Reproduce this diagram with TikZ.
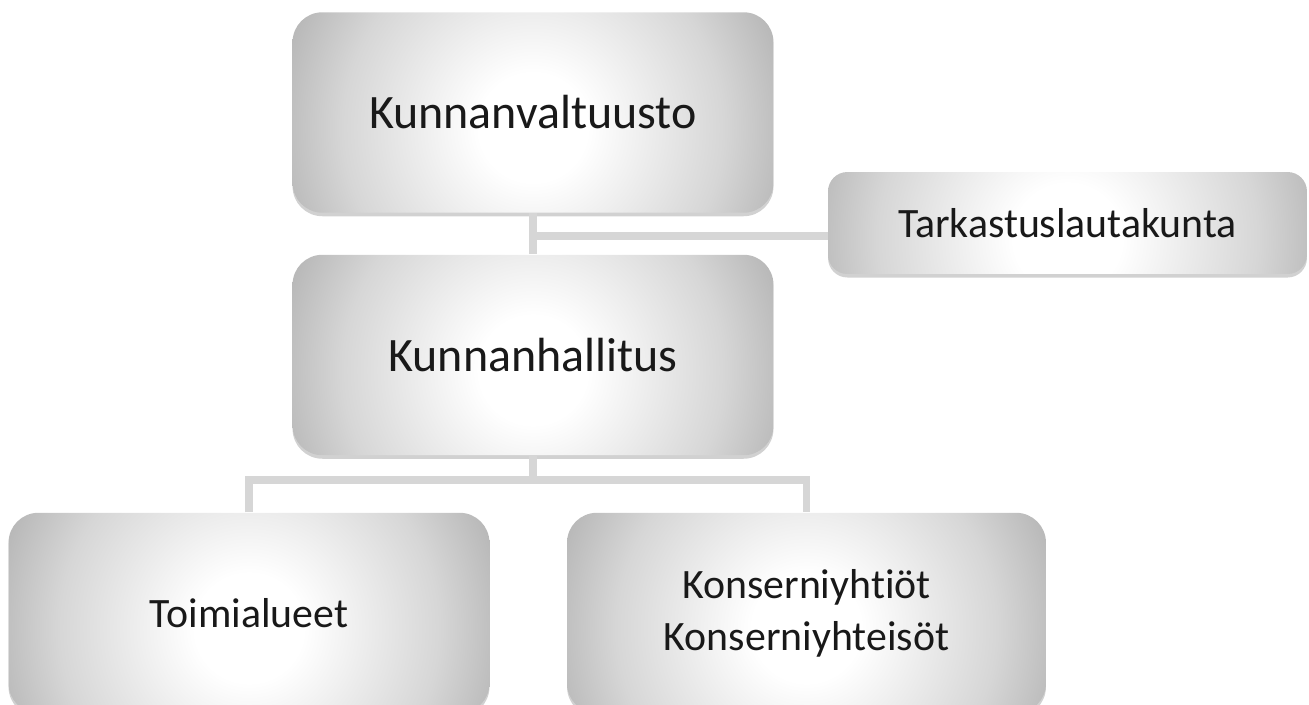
\documentclass[tikz,border=0pt]{standalone}
\usepackage{fontspec}
\setmainfont{Carlito}[Ligatures={NoCommon}]
\usetikzlibrary{shadows}

\colorlet{boxedge}{black!42}
\pgfdeclareradialshading{boxglow}{\pgfpoint{0bp}{0bp}}{color(0bp)=(white); color(4bp)=(white); color(14bp)=(black!16); color(25bp)=(boxedge); color(50bp)=(boxedge)}

\begin{document}
\begin{tikzpicture}
    [
    x=0.02cm, y=-0.02cm,
    box/.style={rectangle,rounded corners=17pt,inner sep=0pt,align=center,
      minimum width=9.62cm,minimum height=4.01cm,text=black!90,
      font=\fontsize{27.3}{32}\selectfont,
      drop shadow={shadow xshift=0pt,shadow yshift=-2pt,opacity=0.18,fill=black},
      path picture={\shade[shading=boxglow]
        ([yshift=-0.3cm]path picture bounding box.center) circle (6.8cm);}},
    smallbox/.style={box,font=\fontsize{23.8}{29.5}\selectfont},
    link/.style={draw=black!16,line width=4.5pt},
    ]
    \useasboundingbox (0,0) rectangle (1309,704);

    \node (valt) at (533,112.5) [box] {Kunnanvaltuusto};
    \node (tark) at (1067.5,223) [smallbox,minimum width=9.58cm,minimum height=2.04cm,rounded corners=11pt] {Tarkastuslautakunta};
    \node (hall) at (533,355) [box] {Kunnanhallitus};
    \node (toim) at (249,613) [smallbox] {Toimialueet};
    \node (kons) at (806.5,613) [smallbox,minimum width=9.58cm] {Konserniyhtiöt\\Konserniyhteisöt};

    \coordinate (tj) at (533,236);
    \coordinate (hj) at (533,480);
    \draw [link] (valt) to (hall);
    \draw [link] (tj) to (tj -| tark.west);
    \draw [link] (hall) to (hj);
    \draw [link] (toim.north) |- (hj) -| (kons.north);
\end{tikzpicture}
\end{document}
